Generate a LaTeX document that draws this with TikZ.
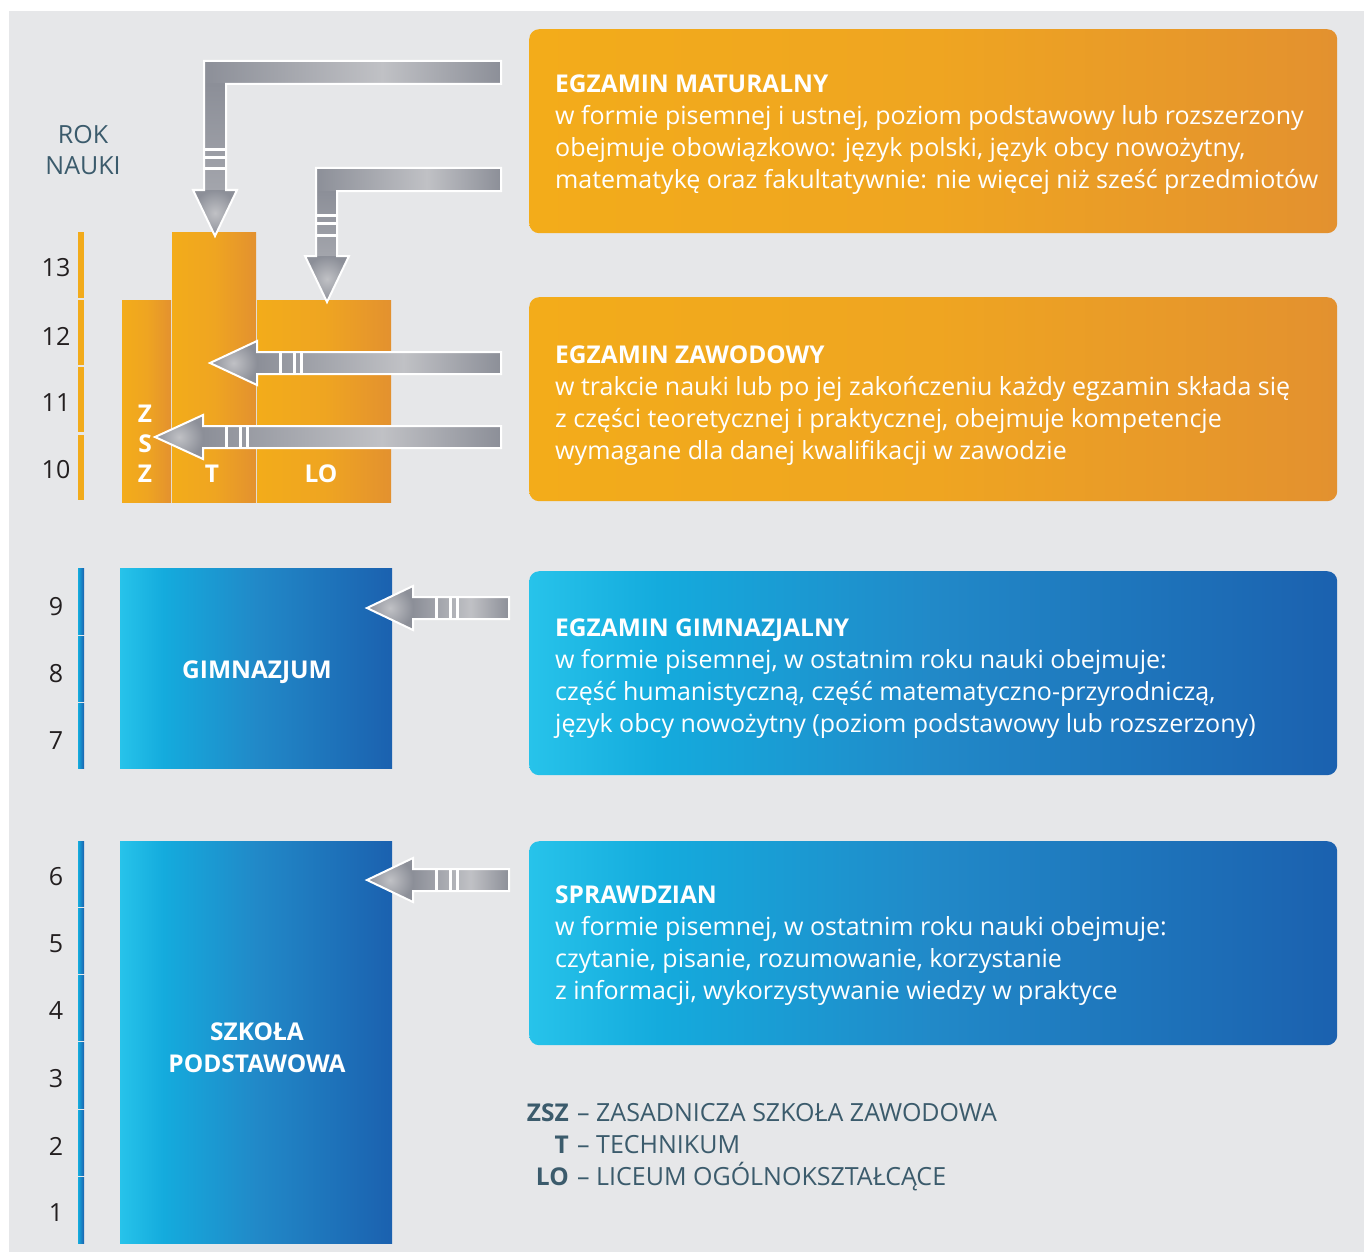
\documentclass[tikz,border=0pt]{standalone}
\usepackage{fontspec}
\setmainfont{Open Sans}
\definecolor{bgc}{HTML}{E6E7E9}
\definecolor{OA}{HTML}{F3AC1A}
\definecolor{OB}{HTML}{EFA521}
\definecolor{OC}{HTML}{E3912F}
\definecolor{BA}{HTML}{27C3EA}
\definecolor{BB}{HTML}{14ABDD}
\definecolor{BC}{HTML}{2189C8}
\definecolor{BD}{HTML}{1B61AF}
\definecolor{GD}{HTML}{8C8F98}
\definecolor{GM}{HTML}{A3A5AC}
\definecolor{GL}{HTML}{C0C1C5}
\definecolor{numc}{HTML}{231F20}
\definecolor{slate}{HTML}{3B5B6C}
\pgfdeclarehorizontalshading{orangeh}{100bp}{color(0bp)=(OA); color(25bp)=(OA); color(50bp)=(OB); color(75bp)=(OC); color(100bp)=(OC)}
\pgfdeclarehorizontalshading{blueh}{100bp}{color(0bp)=(BA); color(25bp)=(BA); color(33bp)=(BB); color(50bp)=(BC); color(75bp)=(BD); color(100bp)=(BD)}
\pgfdeclarehorizontalshading{grayh}{100bp}{color(0bp)=(GD); color(25bp)=(GD); color(55bp)=(GL); color(75bp)=(GD); color(100bp)=(GD)}
\pgfdeclarehorizontalshading{bluebar}{100bp}{color(0bp)=(BB); color(25bp)=(BB); color(75bp)=(BD); color(100bp)=(BD)}
\newcommand{\bodyfont}{\fontsize{25}{32}\selectfont}
\newcommand{\headfont}{\fontsize{24.5}{32}\selectfont\bfseries}
\tikzset{
  obox/.style={shade, shading=orangeh, rounded corners=10pt, inner sep=0pt, anchor=north west},
  bbox/.style={shade, shading=blueh, rounded corners=10pt, inner sep=0pt, anchor=north west},
  oblock/.style={shade, shading=orangeh, inner sep=0pt, anchor=north west},
  bblock/.style={shade, shading=blueh, inner sep=0pt, anchor=north west},
  ttl/.style={anchor=base west, inner sep=0pt, text=white, font=\headfont},
  txl/.style={anchor=base west, inner sep=0pt, text=white, font=\bodyfont},
  lbl/.style={inner sep=0pt, text=white, font=\headfont},
  yr/.style={inner sep=0pt, text=numc, font=\bodyfont},
  outl/.style={draw=white, line width=2pt, line join=miter},
  stripe/.style={draw=white, line width=3pt}
}
\newcommand{\garrowL}[4]{%
  \shade[shading=grayh] ({#3},{#2-11}) rectangle ({#4},{#2+11});
  \shade[inner color=GL, outer color=GD] ({#1},{#2}) -- ({#3},{#2-22}) -- ({#3},{#2+22}) -- cycle;
  \foreach \o in {23.5,37.5,44} \draw[stripe] ({#3+\o},{#2-11}) -- ({#3+\o},{#2+11});
  \draw[outl] ({#1},{#2}) -- ({#3},{#2-22}) -- ({#3},{#2-11}) -- ({#4},{#2-11}) -- ({#4},{#2+11}) -- ({#3},{#2+11}) -- ({#3},{#2+22}) -- cycle;
}
\begin{document}
\begin{tikzpicture}[x=1pt,y=-1pt]
\useasboundingbox (0,0) rectangle (1364,1252);
\fill[bgc] (9,11) rectangle (1364,1252);

% year bars
\foreach \a/\b in {232/298,300/365,367/432,435/500} \fill[OA!95!OC] (78,\a) rectangle (84,\b);
\foreach \a/\b in {568/634,636/701,703/768,841/906,908/973,975/1040,1042/1108,1110/1175,1177/1243}
  \shade[shading=bluebar] (78,\a) rectangle (84,\b);

% year numbers
\node[yr] (y13) at (56,268) {13};
\node[yr] (y12) at (56,336) {12};
\node[yr] (y11) at (56,403) {11};
\node[yr] (y10) at (56,470) {10};
\node[yr] (y9) at (56,607) {9};
\node[yr] (y8) at (56,674) {8};
\node[yr] (y7) at (56,741) {7};
\node[yr] (y6) at (56,877) {6};
\node[yr] (y5) at (56,944) {5};
\node[yr] (y4) at (56,1011) {4};
\node[yr] (y3) at (56,1079) {3};
\node[yr] (y2) at (56,1146) {2};
\node[yr] (y1) at (56,1213) {1};
\node[inner sep=0pt, text=slate, font=\bodyfont] (rok) at (83,135) {ROK};
\node[inner sep=0pt, text=slate, font=\bodyfont] (nauki) at (83,166) {NAUKI};

% school blocks
\node[oblock, minimum width=49pt, minimum height=202pt] (zsz) at (122,300) {};
\node[oblock, minimum width=84pt, minimum height=270pt] (tech) at (172,232) {};
\node[oblock, minimum width=134pt, minimum height=202pt] (lo) at (257,300) {};
\node[bblock, minimum width=272pt, minimum height=200pt] (gim) at (120,568) {};
\node[bblock, minimum width=272pt, minimum height=402pt] (sp) at (120,841) {};

% exam boxes
\node[obox, minimum width=808pt, minimum height=204pt] (mat) at (529,29) {};
\node[obox, minimum width=808pt, minimum height=204pt] (zaw) at (529,297) {};
\node[bbox, minimum width=808pt, minimum height=204pt] (egim) at (529,571) {};
\node[bbox, minimum width=808pt, minimum height=204pt] (spr) at (529,841) {};

% exam texts
\node[ttl] (m0) at (555,93) {EGZAMIN MATURALNY};
\node[txl] (m1) at (555,125) {w formie pisemnej i ustnej, poziom podstawowy lub rozszerzony};
\node[txl] (m2) at (555,157) {obejmuje obowiązkowo: język polski, język obcy nowożytny,};
\node[txl] (m3) at (555,189) {matematykę oraz fakultatywnie: nie więcej niż sześć przedmiotów};

\node[ttl] (z0) at (555,363) {EGZAMIN ZAWODOWY};
\node[txl] (z1) at (555,395) {w trakcie nauki lub po jej zakończeniu każdy egzamin składa się};
\node[txl] (z2) at (555,427) {z części teoretycznej i praktycznej, obejmuje kompetencje};
\node[txl] (z3) at (555,459) {wymagane dla danej kwalifikacji w zawodzie};

\node[ttl] (g0) at (555,636) {EGZAMIN GIMNAZJALNY};
\node[txl] (g1) at (555,668) {w formie pisemnej, w ostatnim roku nauki obejmuje:};
\node[txl] (g2) at (555,700) {część humanistyczną, część matematyczno-przyrodniczą,};
\node[txl] (g3) at (555,732) {język obcy nowożytny (poziom podstawowy lub rozszerzony)};

\node[ttl] (s0) at (555,903) {SPRAWDZIAN};
\node[txl] (s1) at (555,935) {w formie pisemnej, w ostatnim roku nauki obejmuje:};
\node[txl] (s2) at (555,967) {czytanie, pisanie, rozumowanie, korzystanie};
\node[txl] (s3) at (555,999) {z informacji, wykorzystywanie wiedzy w praktyce};

% L-shaped arrow to T
\shade[shading=grayh] (204,61) rectangle (501,84);
\shade[top color=GD, bottom color=GM] (204,84) rectangle (226,190);
\shade[inner color=GL, outer color=GD] (215,236) -- (193,190) -- (237,190) -- cycle;
\foreach \o in {21,32.5,40.5} \draw[stripe] (204,{190-\o}) -- (226,{190-\o});
\draw[outl] (215,236) -- (193,190) -- (204,190) -- (204,61) -- (501,61) -- (501,84) -- (226,84) -- (226,190) -- (237,190) -- cycle;

% L-shaped arrow to LO
\shade[shading=grayh] (316,168) rectangle (501,191);
\shade[top color=GD, bottom color=GM] (316,191) rectangle (337,256);
\shade[inner color=GL, outer color=GD] (327,302) -- (305,256) -- (349,256) -- cycle;
\foreach \o in {21,32.5,40.5} \draw[stripe] (316,{256-\o}) -- (337,{256-\o});
\draw[outl] (327,302) -- (305,256) -- (316,256) -- (316,168) -- (501,168) -- (501,191) -- (337,191) -- (337,256) -- (349,256) -- cycle;

% left arrows
\garrowL{210}{363}{257}{501}
\garrowL{155}{437}{203}{501}
\garrowL{367}{608}{413}{509}
\garrowL{367}{880}{413}{509}

% block labels
\node[lbl] (lz1) at (145,414) {Z};
\node[lbl] (lz2) at (145,444) {S};
\node[lbl] (lz3) at (145,474) {Z};
\node[lbl] (lt) at (212,474) {T};
\node[lbl] (llo) at (321,474) {LO};
\node[lbl] (lgim) at (257,672) {GIMNAZJUM};
\node[lbl] (lsp1) at (257,1032) {SZKOŁA};
\node[lbl] (lsp2) at (257,1064) {PODSTAWOWA};

% legend
\node[anchor=base east, inner sep=0pt, text=slate, font=\headfont] (k1) at (569,1121) {ZSZ};
\node[anchor=base west, inner sep=0pt, text=slate, font=\bodyfont] (k1t) at (569,1121) {\hspace{8pt}– ZASADNICZA SZKOŁA ZAWODOWA};
\node[anchor=base east, inner sep=0pt, text=slate, font=\headfont] (k2) at (569,1153) {T};
\node[anchor=base west, inner sep=0pt, text=slate, font=\bodyfont] (k2t) at (569,1153) {\hspace{8pt}– TECHNIKUM};
\node[anchor=base east, inner sep=0pt, text=slate, font=\headfont] (k3) at (569,1185) {LO};
\node[anchor=base west, inner sep=0pt, text=slate, font=\bodyfont] (k3t) at (569,1185) {\hspace{8pt}– LICEUM OGÓLNOKSZTAŁCĄCE};
\end{tikzpicture}
\end{document}
